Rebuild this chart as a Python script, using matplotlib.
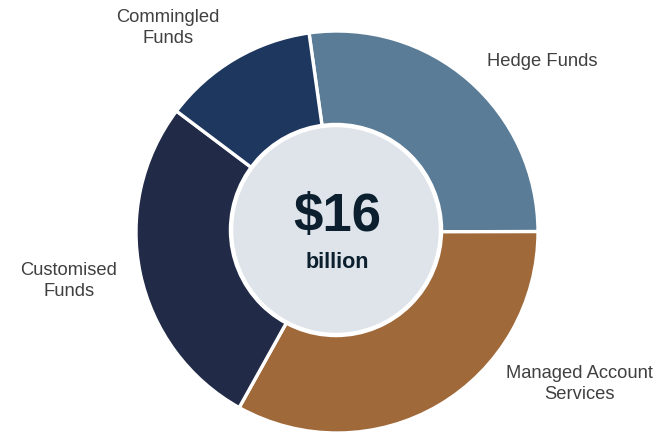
import matplotlib
matplotlib.use("Agg")
import matplotlib.pyplot as plt
from matplotlib.patches import Circle

# Assets by vehicle type (USD billions)
categories = ["Hedge Funds", "Managed Account\nServices", "Customised\nFunds", "Commingled\nFunds"]
values = [4.35, 5.3, 4.35, 2.0]
colors = ["#5b7c96", "#a0693a", "#212a47", "#1e375f"]
total_label = "$16"
unit_label = "billion"

W, H = 658, 435
fig = plt.figure(figsize=(W / 100, H / 100), dpi=100)
ax = fig.add_axes([0, 0, 1, 1])

cx, cy, r = 337, H - 233, 201
ax.pie(values, colors=colors, startangle=98, counterclock=False,
       center=(cx, cy), radius=r, frame=True,
       wedgeprops=dict(edgecolor="white", linewidth=2.4))
ax.set_xlim(0, W)
ax.set_ylim(0, H)
ax.set_aspect("equal")
ax.axis("off")

# Centre disc with the total
ax.add_patch(Circle((336, H - 231), 105, facecolor="#dee4ea",
                    edgecolor="white", linewidth=3.2, zorder=5))
ax.text(337, H - 217, total_label, ha="center", va="center", fontsize=38,
        fontweight="bold", color="#0c1f2e", family="Liberation Sans", zorder=6)
ax.text(337, H - 262, unit_label, ha="center", va="center", fontsize=15.5,
        fontweight="bold", color="#0c1f2e", family="Liberation Sans", zorder=6)

# Outside category labels
label_pos = [(542, 61), (579, 384), (69, 281), (168, 28)]
for text, (x, y) in zip(categories, label_pos):
    ax.text(x, H - y, text, ha="center", va="center", fontsize=13.2,
            color="#404040", family="Liberation Sans", linespacing=1.3)

fig.savefig("out.png", dpi=100)
